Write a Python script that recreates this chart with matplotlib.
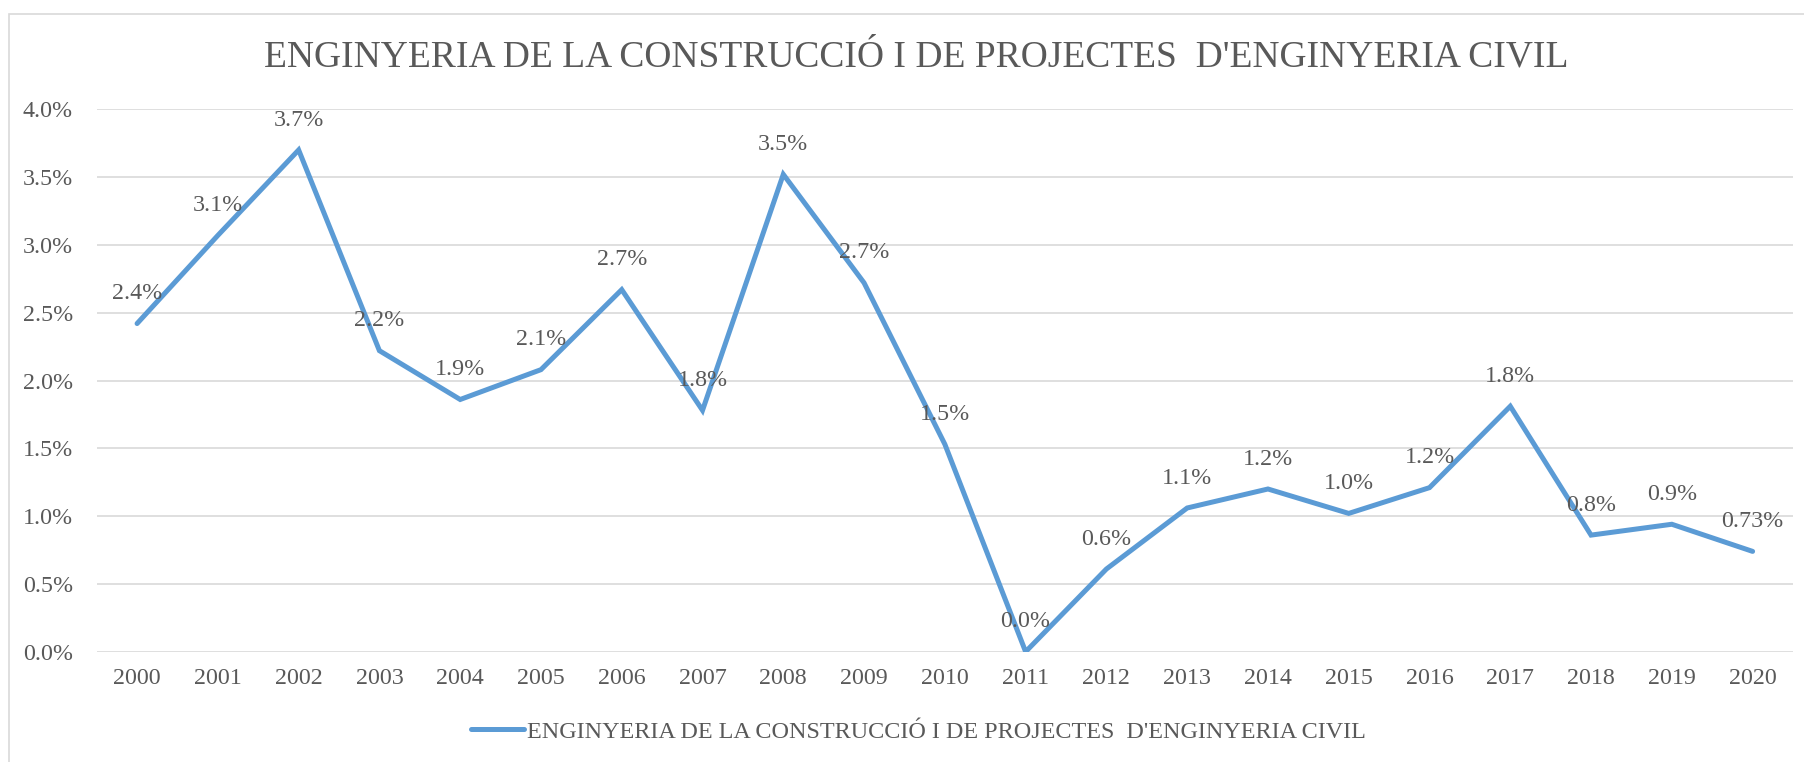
import matplotlib
matplotlib.use("Agg")
import matplotlib.pyplot as plt
from matplotlib.ticker import PercentFormatter
from matplotlib.patches import Rectangle

plt.rcParams['font.family'] = ['Liberation Serif', 'DejaVu Serif']

title = "ENGINYERIA DE LA CONSTRUCCIÓ I DE PROJECTES  D'ENGINYERIA CIVIL"
years = [str(y) for y in range(2000, 2021)]
rates = [2.42, 3.07, 3.70, 2.22, 1.86, 2.08, 2.67, 1.78, 3.52, 2.72, 1.53,
         0.00, 0.61, 1.06, 1.20, 1.02, 1.21, 1.81, 0.86, 0.94, 0.74]
point_labels = ["2.4%", "3.1%", "3.7%", "2.2%", "1.9%", "2.1%", "2.7%", "1.8%",
                "3.5%", "2.7%", "1.5%", "0.0%", "0.6%", "1.1%", "1.2%", "1.0%",
                "1.2%", "1.8%", "0.8%", "0.9%", "0.73%"]

grey = "#595959"
blue = "#5B9BD5"

fig = plt.figure(figsize=(18.04, 7.62), dpi=100)
ax = fig.add_axes([0.0536, 0.1447, 0.9403, 0.7119])

# chart area border (cropped on the right and bottom)
fig.patches.append(Rectangle((9 / 1804, -0.1), 2.0, 1.1 - 14 / 762, transform=fig.transFigure,
                             fill=False, edgecolor="#D9D9D9", linewidth=1.2))

x = list(range(len(years)))
line, = ax.plot(x, [r / 100 for r in rates], color=blue, linewidth=3.6,
                solid_capstyle='round', solid_joinstyle='miter', label=title, zorder=3)

for xi, r, lab in zip(x, rates, point_labels):
    ax.annotate(lab, (xi, r / 100), xytext=(0, 21.5), textcoords='offset points',
                ha='center', va='center', fontsize=17.3, color=grey, zorder=4)

ax.set_xlim(-0.5, len(years) - 0.5)
ax.set_ylim(0, 0.04)
ax.set_yticks([i * 0.005 for i in range(9)])
ax.yaxis.set_major_formatter(PercentFormatter(1.0, decimals=1))
ax.set_xticks(x)
ax.set_xticklabels(years)
ax.tick_params(axis='both', length=0, labelsize=17.3, labelcolor=grey)
ax.tick_params(axis='y', pad=17)
ax.tick_params(axis='x', pad=12)
ax.grid(axis='y', color="#D9D9D9", linewidth=1.2)
ax.set_axisbelow(True)
for s in ax.spines.values():
    s.set_visible(False)

fig.text(916 / 1804, 1 - 57 / 762, title, ha='center', va='center', fontsize=27, color=grey)

fig.legend(handles=[line], loc='center', bbox_to_anchor=(918 / 1804, 1 - 731.7 / 762),
           frameon=False, fontsize=17.4, labelcolor=grey, handlelength=2.2, handletextpad=0.12)

fig.savefig("out.png", dpi=100)
